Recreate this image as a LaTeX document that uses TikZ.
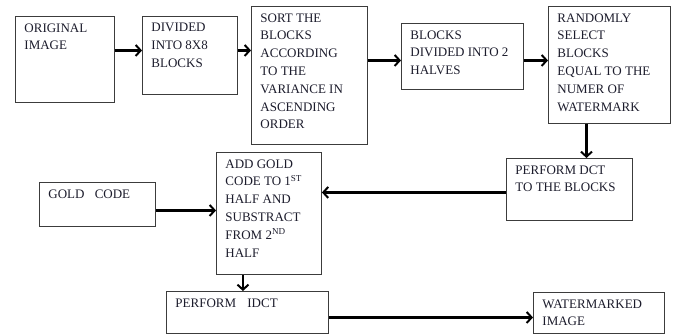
\documentclass[tikz,border=0pt]{standalone}
\usepackage{fontspec}
\setmainfont{Liberation Serif}
\usetikzlibrary{arrows.meta}

\definecolor{txtcol}{RGB}{28,28,44}
\definecolor{edgecol}{RGB}{60,60,60}

\tikzset{
  blk/.style={draw=edgecol,line width=0.9pt,anchor=north west,inner xsep=9pt,inner ysep=7pt,
              font=\fontsize{13}{17.8}\selectfont,text=txtcol},
  flow/.style={line width=2.4pt,black,-{Straight Barb[length=5pt,width=11pt,line width=2pt]}}
}
% box text: width, height (inside the insets), lines
\newcommand{\blktxt}[3]{\parbox[t][#2][t]{#1}{\raggedright #3}}

\begin{document}
\begin{tikzpicture}[x=1pt,y=-1pt]
\useasboundingbox (0,0) rectangle (675,334);

%---------------------------------------------------
%top row
\node[blk] (orig)   at (15,16)  {\blktxt{81pt}{72pt}{ORIGINAL\\IMAGE}};
\node[blk] (divide) at (142,16) {\blktxt{77pt}{64pt}{DIVIDED\\INTO 8X8\\BLOCKS}};
\node[blk] (sort)   at (251,6)  {\blktxt{98pt}{124pt}{SORT THE\\BLOCKS\\ACCORDING\\TO THE\\VARIANCE IN\\ASCENDING\\ORDER}};
\node[blk] (halves) at (401,23) {\blktxt{104pt}{52pt}{BLOCKS\\DIVIDED INTO 2\\HALVES}};
\node[blk] (select) at (548,6)  {\blktxt{104pt}{103pt}{RANDOMLY\\SELECT\\BLOCKS\\EQUAL TO THE\\NUMER OF\\WATERMARK}};

%---------------------------------------------------
%middle and bottom rows
\node[blk] (dct)  at (506,158) {\blktxt{108pt}{48pt}{PERFORM DCT\\TO THE BLOCKS}};
\node[blk] (add)  at (216,152) {\blktxt{87pt}{108pt}{ADD GOLD\\CODE TO 1\textsuperscript{ST}\\HALF AND\\SUBSTRACT\\FROM 2\textsuperscript{ND}\\HALF}};
\node[blk] (gold) at (39,182)  {\blktxt{98pt}{30pt}{GOLD\hspace{7pt} CODE}};
\node[blk] (idct) at (166,291) {\blktxt{144pt}{28pt}{PERFORM\hspace{8pt} IDCT}};
\node[blk] (wmark) at (533,292) {\blktxt{113pt}{27pt}{WATERMARKED\\IMAGE}};

%---------------------------------------------------
%arrows
\draw[flow] ([yshift=9pt]orig.east) -- ([yshift=9pt]orig.east -| divide.west);
\draw[flow] ([yshift=5pt]divide.east) -- ([yshift=5pt]divide.east -| sort.west);
\draw[flow] ([yshift=-4pt]halves.west -| sort.east) -- ([yshift=-4pt]halves.west);
\draw[flow] ([yshift=-4pt]halves.east) -- ([yshift=-4pt]halves.east -| select.west);
\draw[flow] ([xshift=-23pt]select.south) -- ([xshift=-23pt]select.south |- dct.north);
\draw[flow] ([yshift=-3pt]dct.west) -- ([yshift=-3pt]dct.west -| add.east);
\draw[flow] ([yshift=-6pt]gold.east) -- ([yshift=-6pt]gold.east -| add.west);
\draw[flow] ([xshift=-26pt]add.south) -- ([xshift=-26pt]add.south |- idct.north);
\draw[flow] ([yshift=-5pt]idct.east) -- ([yshift=-5pt]idct.east -| wmark.west);

\end{tikzpicture}
\end{document}
